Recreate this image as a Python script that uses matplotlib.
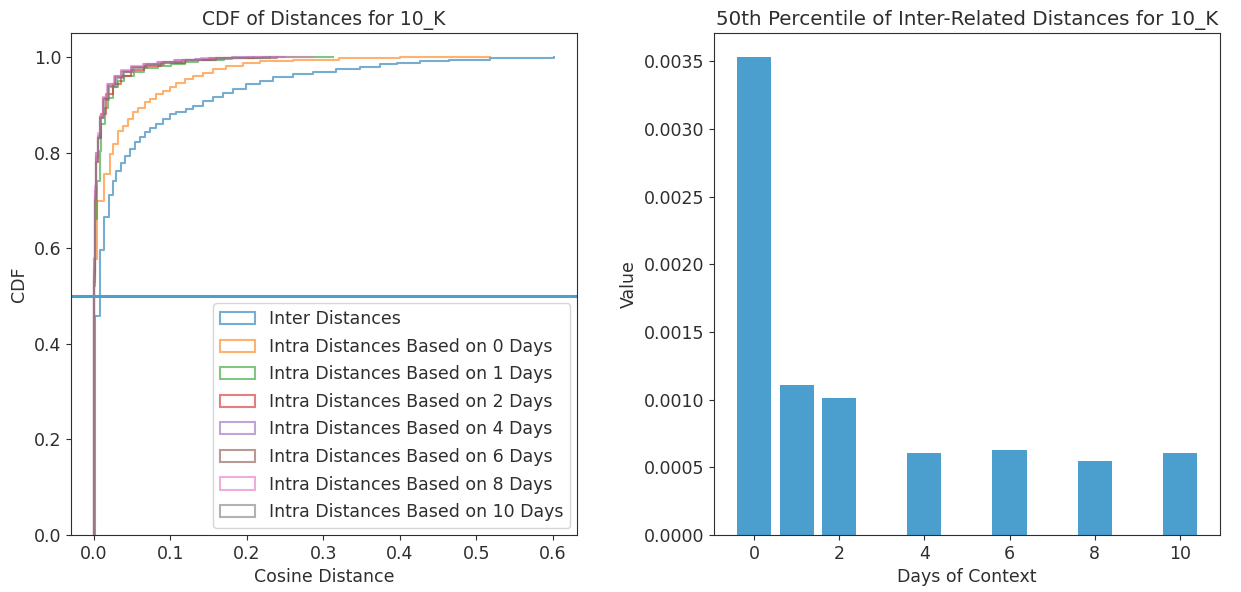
import matplotlib
matplotlib.use("Agg")
import matplotlib.pyplot as plt
from matplotlib.patches import Rectangle

# CDF curves: x where the level changes, level after it
inter_x = [0.002, 0.0075, 0.0131, 0.0196, 0.0249, 0.0293, 0.0349, 0.0402, 0.0467, 0.0533,
           0.0598, 0.0664, 0.0729, 0.0817, 0.0903, 0.0991, 0.108, 0.121, 0.130, 0.143,
           0.156, 0.169, 0.182, 0.199, 0.217, 0.234, 0.260, 0.287, 0.317, 0.348,
           0.374, 0.396, 0.426, 0.465, 0.518, 0.602]
inter_cdf = [0.458, 0.597, 0.665, 0.711, 0.741, 0.762, 0.779, 0.793, 0.807, 0.821,
             0.833, 0.842, 0.851, 0.860, 0.870, 0.880, 0.885, 0.891, 0.898, 0.908,
             0.916, 0.925, 0.933, 0.943, 0.950, 0.957, 0.964, 0.969, 0.975, 0.979,
             0.985, 0.988, 0.991, 0.994, 0.998, 1.0]

intra0_x = [0.0005, 0.0045, 0.0131, 0.0206, 0.0249, 0.0314, 0.038, 0.0445, 0.051, 0.0576,
            0.0664, 0.0729, 0.0817, 0.0903, 0.0991, 0.108, 0.119, 0.130, 0.143, 0.156,
            0.173, 0.195, 0.217, 0.260, 0.320, 0.400, 0.518]
intra0_cdf = [0.578, 0.699, 0.755, 0.797, 0.818, 0.846, 0.856, 0.870, 0.884, 0.894,
              0.905, 0.912, 0.922, 0.929, 0.936, 0.946, 0.953, 0.960, 0.967, 0.974,
              0.981, 0.987, 0.991, 0.994, 0.997, 0.999, 1.0]

intra1_x = [0.0005, 0.002, 0.004, 0.0075, 0.0097, 0.014, 0.0183, 0.0249, 0.0314, 0.040,
            0.053, 0.066, 0.084, 0.101, 0.119, 0.136, 0.17, 0.22, 0.313]
intra1_cdf = [0.52, 0.66, 0.74, 0.804, 0.860, 0.894, 0.915, 0.936, 0.950, 0.960,
              0.969, 0.976, 0.981, 0.986, 0.990, 0.994, 0.997, 0.999, 1.0]

intra2_x = [0.0, 0.0015, 0.003, 0.0055, 0.0097, 0.016, 0.025, 0.036, 0.049, 0.066,
            0.088, 0.119, 0.16, 0.21]
intra2_cdf = [0.55, 0.70, 0.78, 0.83, 0.880, 0.922, 0.943, 0.960, 0.972, 0.980,
              0.987, 0.993, 0.998, 1.0]

intra4_x = [0.0, 0.001, 0.0025, 0.0052, 0.0075, 0.0118, 0.018, 0.027, 0.036, 0.049,
            0.066, 0.084, 0.106, 0.132, 0.18, 0.25]
intra4_cdf = [0.56, 0.72, 0.80, 0.835, 0.873, 0.915, 0.943, 0.960, 0.971, 0.979,
              0.986, 0.990, 0.994, 0.996, 0.999, 1.0]

intra6_x = [0.0, 0.001, 0.0025, 0.005, 0.008, 0.012, 0.019, 0.028, 0.038, 0.05,
            0.068, 0.09, 0.115, 0.15, 0.24]
intra6_cdf = [0.54, 0.71, 0.79, 0.83, 0.875, 0.912, 0.940, 0.958, 0.969, 0.978,
              0.985, 0.990, 0.994, 0.997, 1.0]

intra8_x = [0.0, 0.001, 0.0025, 0.005, 0.0075, 0.0115, 0.017, 0.026, 0.035, 0.048,
            0.064, 0.082, 0.105, 0.14, 0.2, 0.285]
intra8_cdf = [0.58, 0.73, 0.80, 0.84, 0.877, 0.917, 0.944, 0.961, 0.972, 0.980,
              0.986, 0.990, 0.994, 0.997, 0.999, 1.0]

intra10_x = [0.0, 0.001, 0.0025, 0.0055, 0.0085, 0.013, 0.02, 0.03, 0.04, 0.053,
             0.07, 0.092, 0.12, 0.16, 0.23]
intra10_cdf = [0.53, 0.70, 0.78, 0.83, 0.872, 0.91, 0.938, 0.956, 0.968, 0.977,
               0.984, 0.989, 0.993, 0.997, 1.0]

labels = ["Inter Distances",
          "Intra Distances Based on 0 Days",
          "Intra Distances Based on 1 Days",
          "Intra Distances Based on 2 Days",
          "Intra Distances Based on 4 Days",
          "Intra Distances Based on 6 Days",
          "Intra Distances Based on 8 Days",
          "Intra Distances Based on 10 Days"]

# 50th percentile bars
days = [0, 1, 2, 4, 6, 8, 10]
p50 = [0.003534, 0.001112, 0.001011, 0.000609, 0.000628, 0.000545, 0.000609]

ink = "#2e2e2e"
plt.rcParams.update({
    "font.size": 12.5,
    "text.color": ink,
    "axes.labelcolor": ink,
    "axes.edgecolor": ink,
    "xtick.color": ink,
    "ytick.color": ink,
})

fig = plt.figure(figsize=(12.41, 5.92), dpi=100)
ax1 = fig.add_axes([0.0572, 0.0963, 0.4078, 0.8480])
ax2 = fig.add_axes([0.5753, 0.0963, 0.4077, 0.8480])

curves = [(inter_x, inter_cdf), (intra0_x, intra0_cdf), (intra1_x, intra1_cdf),
          (intra2_x, intra2_cdf), (intra4_x, intra4_cdf), (intra6_x, intra6_cdf),
          (intra8_x, intra8_cdf), (intra10_x, intra10_cdf)]
colors = ["C0", "C1", "C2", "C3", "C4", "C5", "C6", "C7"]
handles = []
for (xs, ys), c, lab in zip(curves, colors, labels):
    ax1.step([xs[0]] + xs, [0.0] + ys, where="post", color=c, alpha=0.6, lw=1.5)
    handles.append(Rectangle((0, 0), 1, 1, fill=False, edgecolor=c, alpha=0.6, lw=1.5))

ax1.axhline(0.5, color="#4a9fcf", lw=2.2)
ax1.set_xlim(-0.030, 0.632)
ax1.set_ylim(0, 1.05)
ax1.set_title("CDF of Distances for 10_K", fontsize=13.5)
ax1.set_xlabel("Cosine Distance")
ax1.set_ylabel("CDF")
ax1.legend(handles, labels, loc="lower right", labelspacing=0.55, borderaxespad=0.4)

ax2.bar(days, p50, width=0.8, color="#4a9fcf")
ax2.set_ylim(0, 0.00371)
ax2.set_xticks([0, 2, 4, 6, 8, 10])
ax2.set_title("50th Percentile of Inter-Related Distances for 10_K", fontsize=14.3)
ax2.set_xlabel("Days of Context")
ax2.set_ylabel("Value")

fig.savefig("out.png", dpi=100)
